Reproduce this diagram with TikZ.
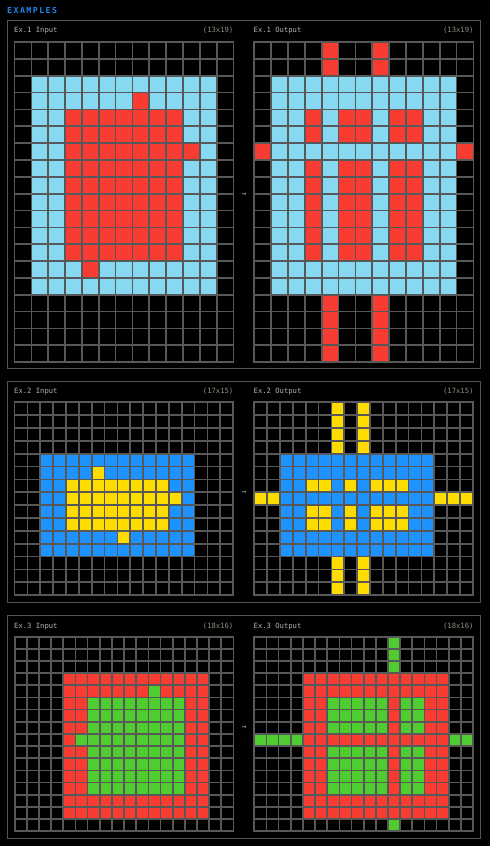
\documentclass[tikz,border=0pt]{standalone}
\usepackage{fontspec}
\newfontfamily\monof{DejaVu Sans Mono}
\newfontfamily\titlef[LetterSpace=18]{DejaVu Sans Mono Bold}
\definecolor{azure}{HTML}{87D8F1}
\definecolor{arcred}{HTML}{F93C31}
\definecolor{arcblue}{HTML}{1E93FF}
\definecolor{arcyellow}{HTML}{FFDC00}
\definecolor{arcgreen}{HTML}{4FCC30}
\definecolor{gline}{HTML}{585858}
\definecolor{panelline}{HTML}{555555}
\definecolor{titleblue}{HTML}{1E88F0}
\definecolor{labelgray}{HTML}{B0B4B8}
\definecolor{taggray}{HTML}{948C7E}
\tikzset{
  gridline/.style={draw=gline, line width=1.7pt, line cap=rect},
  panelframe/.style={draw=panelline, line width=1pt},
  lbl/.style={text=labelgray, font=\monof\fontsize{7.2}{8}\selectfont, inner sep=0pt, anchor=west},
  tag/.style={text=taggray, font=\monof\fontsize{7.2}{8}\selectfont, inner sep=0pt, anchor=east},
  arrowlbl/.style={text=labelgray, font=\monof\fontsize{8}{9}\selectfont, inner sep=0pt},
}
\begin{document}
\begin{tikzpicture}[x=1pt,y=-1pt]
\fill[black] (0,0) rectangle (490,846);
\useasboundingbox (0,0) rectangle (490,846);
\node[anchor=west, text=titleblue, font=\titlef\fontsize{8.2}{9}\selectfont, inner sep=0pt] (title) at (7,10.5) {EXAMPLES};

% panels
\draw[panelframe] (7.3,20) rectangle (480.7,368);
\draw[panelframe] (7.3,381) rectangle (480.7,602.7);
\draw[panelframe] (7.3,615) rectangle (480.7,838.7);

% labels
\node[lbl] (l1i) at (14,30.5) {Ex.1 Input};
\node[tag] (t1i) at (233.5,30.5) {(13x19)};
\node[lbl] (l1o) at (253.5,30.5) {Ex.1 Output};
\node[tag] (t1o) at (473.7,30.5) {(13x19)};
\node[lbl] (l2i) at (14,391.3) {Ex.2 Input};
\node[tag] (t2i) at (233.5,391.3) {(17x15)};
\node[lbl] (l2o) at (253.5,391.3) {Ex.2 Output};
\node[tag] (t2o) at (473.7,391.3) {(17x15)};
\node[lbl] (l3i) at (14,626.3) {Ex.3 Input};
\node[tag] (t3i) at (233.5,626.3) {(18x16)};
\node[lbl] (l3o) at (253.5,626.3) {Ex.3 Output};
\node[tag] (t3o) at (473.7,626.3) {(18x16)};

\node[arrowlbl] (a1) at (244,195) {→};
\node[arrowlbl] (a2) at (244,492.5) {→};
\node[arrowlbl] (a3) at (244,727.5) {→};

% ---------- Ex.1 input ----------
\begin{scope}[shift={(14.5pt,-42pt)}, x=16.85pt, y=-16.85pt]
  \fill[azure] (1,2) rectangle (12,15);
  \fill[arcred] (3,4) rectangle (10,13);
  \fill[arcred] (7,3) rectangle (8,4);
  \fill[arcred] (10,6) rectangle (11,7);
  \fill[arcred] (4,13) rectangle (5,14);
  \foreach \i in {0,...,13} \draw[gridline] (\i,0) -- (\i,19);
  \foreach \j in {0,...,19} \draw[gridline] (0,\j) -- (13,\j);
\end{scope}
% ---------- Ex.1 output ----------
\begin{scope}[shift={(254.3pt,-42pt)}, x=16.85pt, y=-16.85pt]
  \fill[azure] (1,2) rectangle (12,15);
  \foreach \a/\b in {3/4,5/7,8/10} {
    \fill[arcred] (\a,4) rectangle (\b,6);
    \fill[arcred] (\a,7) rectangle (\b,13);
  }
  \foreach \c in {4,7} {
    \fill[arcred] (\c,0) rectangle (\c+1,2);
    \fill[arcred] (\c,15) rectangle (\c+1,19);
  }
  \fill[arcred] (0,6) rectangle (1,7);
  \fill[arcred] (12,6) rectangle (13,7);
  \foreach \i in {0,...,13} \draw[gridline] (\i,0) -- (\i,19);
  \foreach \j in {0,...,19} \draw[gridline] (0,\j) -- (13,\j);
\end{scope}

% ---------- Ex.2 input ----------
\begin{scope}[shift={(14.6pt,-402.3pt)}, x=12.85pt, y=-12.85pt]
  \fill[arcblue] (2,4) rectangle (14,12);
  \fill[arcyellow] (4,6) rectangle (12,10);
  \fill[arcyellow] (6,5) rectangle (7,6);
  \fill[arcyellow] (12,7) rectangle (13,8);
  \fill[arcyellow] (8,10) rectangle (9,11);
  \foreach \i in {0,...,17} \draw[gridline] (\i,0) -- (\i,15);
  \foreach \j in {0,...,15} \draw[gridline] (0,\j) -- (17,\j);
\end{scope}
% ---------- Ex.2 output ----------
\begin{scope}[shift={(254.3pt,-402.3pt)}, x=12.85pt, y=-12.85pt]
  \fill[arcblue] (2,4) rectangle (14,12);
  \foreach \a/\b in {4/6,7/8,9/12} {
    \fill[arcyellow] (\a,6) rectangle (\b,7);
    \fill[arcyellow] (\a,8) rectangle (\b,10);
  }
  \foreach \c in {6,8} {
    \fill[arcyellow] (\c,0) rectangle (\c+1,4);
    \fill[arcyellow] (\c,12) rectangle (\c+1,15);
  }
  \fill[arcyellow] (0,7) rectangle (2,8);
  \fill[arcyellow] (14,7) rectangle (17,8);
  \foreach \i in {0,...,17} \draw[gridline] (\i,0) -- (\i,15);
  \foreach \j in {0,...,15} \draw[gridline] (0,\j) -- (17,\j);
\end{scope}

% ---------- Ex.3 input ----------
\begin{scope}[shift={(14.7pt,-636.7pt)}, x=12.15pt, y=-12.15pt]
  \fill[arcred] (4,3) rectangle (16,15);
  \fill[arcgreen] (6,5) rectangle (14,13);
  \fill[arcgreen] (11,4) rectangle (12,5);
  \fill[arcgreen] (5,8) rectangle (6,9);
  \foreach \i in {0,...,18} \draw[gridline] (\i,0) -- (\i,16);
  \foreach \j in {0,...,16} \draw[gridline] (0,\j) -- (18,\j);
\end{scope}
% ---------- Ex.3 output ----------
\begin{scope}[shift={(254.3pt,-636.7pt)}, x=12.15pt, y=-12.15pt]
  \fill[arcred] (4,3) rectangle (16,15);
  \foreach \a/\b in {6/11,12/14} {
    \fill[arcgreen] (\a,5) rectangle (\b,8);
    \fill[arcgreen] (\a,9) rectangle (\b,13);
  }
  \fill[arcgreen] (11,0) rectangle (12,3);
  \fill[arcgreen] (11,15) rectangle (12,16);
  \fill[arcgreen] (0,8) rectangle (4,9);
  \fill[arcgreen] (16,8) rectangle (18,9);
  \foreach \i in {0,...,18} \draw[gridline] (\i,0) -- (\i,16);
  \foreach \j in {0,...,16} \draw[gridline] (0,\j) -- (18,\j);
\end{scope}
\end{tikzpicture}
\end{document}
